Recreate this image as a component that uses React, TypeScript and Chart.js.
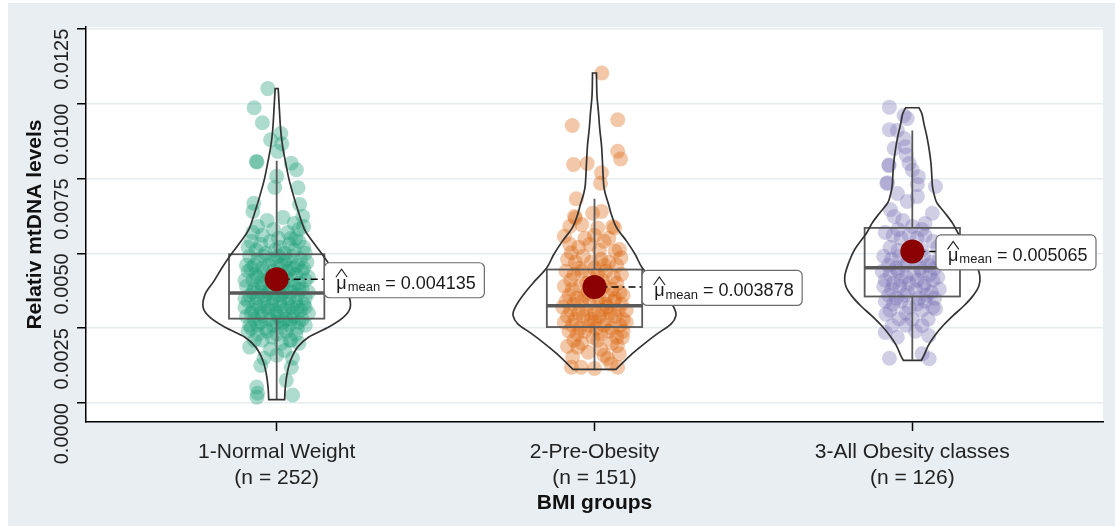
import React, { useEffect, useRef } from "react";
import { Chart, registerables } from "chart.js";

Chart.register(...registerables);

// ---------------- DATA ----------------
const categories = ["1-Normal Weight", "2-Pre-Obesity", "3-All Obesity classes"];
const groupCounts = [252, 151, 126];
const yTickValues = [0, 0.0025, 0.005, 0.0075, 0.01, 0.0125];
const xAxisTitle = "BMI groups";
const yAxisTitle = "Relativ mtDNA levels";

const meanValues = [0.004135, 0.003878, 0.005065];
const whiskerLow = [0.00013, 0.00113, 0.00145];
const quartile1 = [0.00282, 0.00254, 0.00356];
const medians = [0.00368, 0.00325, 0.00452];
const quartile3 = [0.00497, 0.00446, 0.00585];
const whiskerHigh = [0.00809, 0.00682, 0.0091];

// violin density outlines (value level, relative density)
const normalViolinY = [0.00012, 0.00054, 0.00098, 0.00143, 0.00187, 0.0022, 0.00253, 0.00286, 0.00319, 0.00364, 0.00408, 0.00452, 0.00496, 0.0054, 0.0058, 0.00637, 0.00691, 0.00746, 0.00802, 0.00856, 0.00912, 0.00995, 0.0105];
const normalViolinDensity = [0.1, 0.109, 0.131, 0.175, 0.263, 0.4, 0.65, 0.838, 0.925, 0.9, 0.788, 0.688, 0.575, 0.45, 0.35, 0.275, 0.213, 0.156, 0.113, 0.075, 0.05, 0.031, 0.019];

const preViolinY = [0.00113, 0.00132, 0.00165, 0.00198, 0.00231, 0.00264, 0.00292, 0.00319, 0.00364, 0.00408, 0.00452, 0.00496, 0.0054, 0.00585, 0.00629, 0.00662, 0.00695, 0.00728, 0.00806, 0.00861, 0.00916, 0.00971, 0.01027, 0.01102];
const preViolinDensity = [0.271, 0.344, 0.475, 0.625, 0.788, 0.963, 1.025, 1.0, 0.888, 0.75, 0.6, 0.513, 0.406, 0.28, 0.213, 0.179, 0.141, 0.116, 0.1, 0.088, 0.066, 0.05, 0.031, 0.025];

const obeseViolinY = [0.00143, 0.00159, 0.00192, 0.00225, 0.00259, 0.00292, 0.00325, 0.00358, 0.00391, 0.00424, 0.00469, 0.00513, 0.00568, 0.00601, 0.00634, 0.00667, 0.0069, 0.00723, 0.00756, 0.008, 0.00845, 0.00889, 0.00933, 0.00966, 0.00986];
const obeseViolinDensity = [0.113, 0.146, 0.2, 0.281, 0.388, 0.513, 0.65, 0.763, 0.838, 0.85, 0.8, 0.725, 0.575, 0.506, 0.413, 0.313, 0.281, 0.254, 0.246, 0.235, 0.213, 0.184, 0.146, 0.121, 0.084];

// jittered observations: [horizontal jitter, value]
const normalPoints: [number, number][] = [
  [-0.028, 0.0105], [-0.071, 0.00986], [-0.045, 0.00936], [0.013, 0.009], [-0.019, 0.00879], [0.016, 0.00866], [0.003, 0.0084],
  [-0.064, 0.00807], [-0.062, 0.00805], [0.046, 0.00801], [0.062, 0.00779], [0, 0.00757], [0.067, 0.00719], [-0.006, 0.0072],
  [-0.072, 0.00667], [0.072, 0.00663], [-0.075, 0.0064], [0.082, 0.00624],
  [-0.03, 0.0061], [0.02, 0.0062], [0.055, 0.006], [-0.06, 0.0059], [0.07, 0.0058], [-0.01, 0.0058], [0.035, 0.0057],
  [-0.045, 0.0056], [0.06, 0.0055], [0.005, 0.0055], [-0.075, 0.0057], [0.085, 0.0059],
  [-0.08, 0.0054], [-0.05, 0.0053], [-0.02, 0.0054], [0.01, 0.0052], [0.04, 0.0053], [0.07, 0.0054], [-0.065, 0.0051],
  [-0.035, 0.005], [0.025, 0.005], [0.055, 0.0051], [0.085, 0.0052], [-0.005, 0.0051], [0.09, 0.005], [-0.09, 0.0052], [0.045, 0.0055],
  [-0.085, 0.0049], [-0.06, 0.0048], [-0.04, 0.0049], [-0.015, 0.0048], [0.005, 0.0049], [0.03, 0.0048], [0.05, 0.0049],
  [0.075, 0.0048], [0.095, 0.0047], [-0.095, 0.0046], [-0.07, 0.0046], [-0.045, 0.0045], [-0.025, 0.0046], [0.015, 0.0046],
  [0.04, 0.0045], [0.065, 0.0046], [0.085, 0.0045], [0, 0.0047], [-0.08, 0.0045], [0.025, 0.0047],
  [-0.09, 0.0044], [-0.065, 0.0043], [-0.04, 0.0044], [-0.02, 0.0042], [0.01, 0.0043], [0.035, 0.0044], [0.06, 0.0043],
  [0.08, 0.0044], [0.1, 0.0042], [-0.1, 0.0041], [-0.075, 0.0041], [-0.05, 0.004], [-0.03, 0.0041], [0.02, 0.004],
  [0.045, 0.0041], [0.07, 0.004], [0.09, 0.0041], [-0.01, 0.0044], [-0.06, 0.0042], [0.055, 0.0045], [0, 0.004], [0.03, 0.0042],
  [-0.095, 0.0039], [-0.07, 0.0038], [-0.045, 0.0039], [-0.02, 0.0038], [0.005, 0.0039], [0.03, 0.0038], [0.055, 0.0039],
  [0.08, 0.0038], [0.1, 0.0037], [-0.085, 0.0036], [-0.06, 0.0035], [-0.035, 0.0036], [-0.01, 0.0035], [0.015, 0.0036],
  [0.04, 0.0035], [0.065, 0.0036], [0.09, 0.0035], [-0.1, 0.0035], [-0.05, 0.0037], [0.02, 0.0037], [0.045, 0.0037],
  [0.07, 0.0038], [-0.025, 0.0037], [0, 0.0036], [-0.075, 0.0037],
  [-0.09, 0.0034], [-0.065, 0.0033], [-0.04, 0.0034], [-0.015, 0.0033], [0.01, 0.0034], [0.035, 0.0033], [0.06, 0.0034],
  [0.085, 0.0033], [-0.1, 0.0032], [-0.075, 0.0031], [-0.05, 0.003], [-0.025, 0.0031], [0, 0.003], [0.025, 0.0031],
  [0.05, 0.003], [0.075, 0.0031], [0.1, 0.003], [-0.055, 0.0032], [0.045, 0.0032], [-0.03, 0.0032], [0.015, 0.0032],
  [0.09, 0.0032], [-0.08, 0.003], [0.065, 0.0032], [-0.005, 0.0031],
  [-0.095, 0.0029], [-0.07, 0.0028], [-0.045, 0.0029], [-0.02, 0.0028], [0.005, 0.0029], [0.03, 0.0028], [0.055, 0.0029],
  [0.08, 0.0028], [-0.085, 0.0026], [-0.06, 0.0026], [-0.035, 0.0025], [-0.01, 0.0026], [0.015, 0.0025], [0.04, 0.0026],
  [0.065, 0.0025], [0.09, 0.0026], [-0.05, 0.0027], [0.02, 0.0027], [0.07, 0.0027], [-0.08, 0.0025], [0.045, 0.0028], [0, 0.0027],
  [-0.09, 0.0024], [-0.06, 0.0023], [-0.03, 0.0024], [0, 0.0023], [0.03, 0.0024], [0.06, 0.0023], [-0.045, 0.0021],
  [0.045, 0.0021], [-0.015, 0.0022], [0.015, 0.002], [-0.07, 0.0021], [0.07, 0.002],
  [0.041, 0.0021], [-0.085, 0.00187], [0.025, 0.00176], [-0.05, 0.00126], [0.03, 0.00076], [-0.063, 0.00054], [-0.06, 0.00033],
  [-0.062, 0.0002], [0.05, 0.00027], [0, 0.0016], [-0.02, 0.0018], [0.05, 0.0015], [-0.04, 0.0015], [0.046, 0.0012],
];

const preObesityPoints: [number, number][] = [
  [0.023, 0.01102], [-0.07, 0.00927], [0.073, 0.00946], [0.073, 0.00841], [0.082, 0.00815], [-0.066, 0.00797], [-0.023, 0.008],
  [0.022, 0.00769], [0.019, 0.00734], [-0.057, 0.00682], [-0.063, 0.00623], [-0.06, 0.00618], [-0.006, 0.00634], [0.022, 0.0064],
  [-0.078, 0.0059], [-0.04, 0.00596], [0.01, 0.00585], [0.063, 0.00585], [0.057, 0.0059],
  [-0.095, 0.00557], [-0.078, 0.0053], [-0.073, 0.00502], [0.065, 0.00507], [0.078, 0.00513], [0.083, 0.00485], [-0.03, 0.0055],
  [0, 0.0056], [0.03, 0.0054], [-0.05, 0.0052], [0.015, 0.0051], [-0.015, 0.0053], [0.045, 0.0055],
  [-0.085, 0.0048], [-0.06, 0.0047], [-0.035, 0.0049], [-0.01, 0.0047], [0.02, 0.0048], [0.045, 0.0047], [0.07, 0.0046],
  [-0.05, 0.0045], [0, 0.0045], [0.03, 0.0046],
  [-0.09, 0.0044], [-0.065, 0.0043], [-0.04, 0.0044], [-0.015, 0.0042], [0.01, 0.0043], [0.035, 0.0044], [0.06, 0.0042],
  [0.085, 0.0043], [-0.075, 0.0041], [-0.025, 0.004], [0.025, 0.0041], [0.07, 0.004],
  [-0.095, 0.0039], [-0.07, 0.0038], [-0.045, 0.0039], [-0.02, 0.0037], [0.005, 0.0038], [0.03, 0.0039], [0.055, 0.0038],
  [0.08, 0.0037], [-0.08, 0.0036], [-0.055, 0.0035], [-0.03, 0.0036], [0.015, 0.0035], [0.04, 0.0036], [0.065, 0.0035], [0.09, 0.0036],
  [-0.09, 0.0034], [-0.065, 0.0033], [-0.04, 0.0034], [-0.015, 0.0033], [0.01, 0.0034], [0.035, 0.0033], [0.06, 0.0034],
  [0.085, 0.0033], [-0.075, 0.0031], [-0.05, 0.003], [-0.025, 0.0031], [0, 0.003], [0.025, 0.0031], [0.05, 0.003],
  [0.075, 0.0031], [-0.1, 0.0032], [0.1, 0.0031], [0.04, 0.0032],
  [-0.085, 0.0029], [-0.06, 0.0028], [-0.035, 0.0029], [-0.01, 0.0028], [0.015, 0.0029], [0.04, 0.0028], [0.065, 0.0029],
  [0.09, 0.0028], [-0.07, 0.0026], [-0.045, 0.0025], [-0.02, 0.0026], [0.005, 0.0025], [0.03, 0.0026], [0.055, 0.0025],
  [0.08, 0.0026], [-0.095, 0.0027], [0.1, 0.0027], [0, 0.0027],
  [-0.08, 0.0024], [-0.055, 0.0023], [-0.03, 0.0024], [-0.005, 0.0022], [0.02, 0.0023], [0.045, 0.0024], [0.07, 0.0022],
  [0.09, 0.0024], [-0.065, 0.0021], [-0.04, 0.002], [0.01, 0.0021], [0.055, 0.002],
  [-0.053, 0.00187], [0.072, 0.00192], [0.088, 0.0022], [-0.069, 0.00154], [0.078, 0.00165], [0.041, 0.00149], [-0.073, 0.0012],
  [-0.042, 0.0012], [0.073, 0.0012], [0.052, 0.00131], [0, 0.00116], [-0.02, 0.0017], [0.02, 0.0018], [-0.085, 0.0019], [0.03, 0.0016],
];

const obesityPoints: [number, number][] = [
  [-0.072, 0.00988], [-0.026, 0.0096], [-0.016, 0.0095], [-0.072, 0.00913], [-0.047, 0.00911], [-0.026, 0.00883], [-0.057, 0.0085],
  [-0.022, 0.00856], [-0.019, 0.00828], [-0.073, 0.00795], [-0.074, 0.00793], [-0.01, 0.008], [0, 0.00778], [0.019, 0.00756],
  [-0.078, 0.00736], [-0.08, 0.00733], [0.073, 0.00723], [0.016, 0.0073], [-0.047, 0.007], [0.016, 0.0069], [-0.069, 0.00646],
  [-0.016, 0.00673], [0.063, 0.00634], [-0.057, 0.00623], [-0.03, 0.0061], [0, 0.0059], [0.04, 0.006], [0.03, 0.0058], [-0.045, 0.0058],
  [-0.085, 0.0057], [-0.06, 0.0056], [-0.035, 0.0055], [-0.01, 0.0056], [0.015, 0.0055], [0.04, 0.0056], [0.065, 0.0054],
  [-0.07, 0.0052], [-0.045, 0.0051], [0, 0.0052], [0.03, 0.0051], [0.08, 0.0052],
  [-0.09, 0.0049], [-0.065, 0.0048], [-0.04, 0.0049], [-0.015, 0.0047], [0.01, 0.0048], [0.035, 0.0049], [0.06, 0.0047],
  [0.085, 0.0048], [-0.075, 0.0046], [-0.05, 0.0045], [-0.025, 0.0046], [0.025, 0.0045], [0.05, 0.0046], [0.07, 0.0045],
  [-0.095, 0.0044], [-0.07, 0.0043], [-0.045, 0.0044], [-0.02, 0.0042], [0.005, 0.0043], [0.03, 0.0044], [0.055, 0.0043],
  [0.08, 0.0042], [-0.085, 0.0041], [-0.06, 0.004], [-0.035, 0.0041], [-0.01, 0.004], [0.015, 0.0041], [0.04, 0.004], [0.065, 0.0041],
  [-0.09, 0.0039], [-0.065, 0.0038], [-0.04, 0.0039], [-0.015, 0.0037], [0.01, 0.0038], [0.035, 0.0039], [0.06, 0.0037],
  [0.085, 0.0038], [-0.075, 0.0036], [-0.05, 0.0035], [-0.025, 0.0036], [0.02, 0.0035], [0.045, 0.0036], [0.07, 0.0035],
  [-0.085, 0.0034], [-0.06, 0.0033], [-0.035, 0.0034], [-0.01, 0.0032], [0.015, 0.0033], [0.04, 0.0034], [0.065, 0.0032],
  [-0.07, 0.0031], [-0.02, 0.003], [0.03, 0.0031],
  [0.073, 0.00315], [-0.083, 0.00297], [-0.042, 0.00282], [-0.063, 0.00259], [0.031, 0.00259], [-0.085, 0.00236], [-0.047, 0.0022],
  [0.052, 0.00225], [0.031, 0.00165], [-0.072, 0.0015], [0.053, 0.00148], [0, 0.0028], [0.05, 0.0028], [-0.02, 0.0026], [0.01, 0.0024],
];

const groupPoints = [normalPoints, preObesityPoints, obesityPoints];
const violinLevels = [normalViolinY, preViolinY, obeseViolinY];
const violinDensities = [normalViolinDensity, preViolinDensity, obeseViolinDensity];

// ---------------- STYLE ----------------
const pointColors = ["rgba(27,158,119,0.36)", "rgba(217,95,2,0.34)", "rgba(117,112,179,0.34)"];
const MEAN_COLOR = "#8b0000";
const FONT = "'Liberation Sans', Arial, Helvetica, sans-serif";
const X_MIN = 0.4;
const X_MAX = 3.6;
const Y_MIN = -0.00063;
const Y_MAX = 0.012556;
const BOX_HALF = 0.15;
const VIOLIN_HALF = 0.25;
const MEAN_INDEX = 3;

type Pt = [number, number];

function smoothTo(ctx: CanvasRenderingContext2D, pts: Pt[]) {
  for (let i = 0; i < pts.length - 1; i++) {
    const p0 = pts[i - 1] || pts[i];
    const p1 = pts[i];
    const p2 = pts[i + 1];
    const p3 = pts[i + 2] || p2;
    const c1x = p1[0] + (p2[0] - p0[0]) / 6;
    const c1y = p1[1] + (p2[1] - p0[1]) / 6;
    const c2x = p2[0] - (p3[0] - p1[0]) / 6;
    const c2y = p2[1] - (p3[1] - p1[1]) / 6;
    ctx.bezierCurveTo(c1x, c1y, c2x, c2y, p2[0], p2[1]);
  }
}

const decorPlugin = {
  id: "decor",
  beforeDraw(chart: any) {
    const { ctx, chartArea } = chart;
    ctx.save();
    ctx.fillStyle = "#ffffff";
    ctx.fillRect(0, 0, chart.width, chart.height);
    ctx.fillStyle = "#e8eef2";
    ctx.fillRect(8, 3, chart.width - 8, chart.height - 3);
    ctx.fillStyle = "#ffffff";
    ctx.fillRect(chartArea.left, chartArea.top, chartArea.right - chartArea.left, chartArea.bottom - chartArea.top);
    ctx.restore();
  },
  beforeDatasetDraw(chart: any, args: any) {
    if (args.index !== MEAN_INDEX) return;
    const { ctx } = chart;
    const xs = chart.scales.x;
    const ys = chart.scales.y;
    ctx.save();
    for (let g = 0; g < categories.length; g++) {
      const c = g + 1;
      // box
      const l = xs.getPixelForValue(c - BOX_HALF);
      const r = xs.getPixelForValue(c + BOX_HALF);
      const cx = xs.getPixelForValue(c);
      const q1 = ys.getPixelForValue(quartile1[g]);
      const q3 = ys.getPixelForValue(quartile3[g]);
      ctx.strokeStyle = "#595959";
      ctx.lineWidth = 1.8;
      ctx.beginPath();
      ctx.moveTo(cx, q3);
      ctx.lineTo(cx, ys.getPixelForValue(whiskerHigh[g]));
      ctx.moveTo(cx, q1);
      ctx.lineTo(cx, ys.getPixelForValue(whiskerLow[g]));
      ctx.stroke();
      ctx.strokeRect(l, q3, r - l, q1 - q3);
      ctx.lineWidth = 3.5;
      ctx.beginPath();
      const md = ys.getPixelForValue(medians[g]);
      ctx.moveTo(l, md);
      ctx.lineTo(r, md);
      ctx.stroke();

      // violin
      const lv = violinLevels[g];
      const dv = violinDensities[g];
      const right: Pt[] = lv.map((v, i) => [xs.getPixelForValue(c + dv[i] * VIOLIN_HALF), ys.getPixelForValue(v)]);
      const left: Pt[] = lv.map((v, i) => [xs.getPixelForValue(c - dv[i] * VIOLIN_HALF), ys.getPixelForValue(v)]).reverse() as Pt[];
      ctx.strokeStyle = "#333333";
      ctx.lineWidth = 1.7;
      ctx.beginPath();
      ctx.moveTo(right[0][0], right[0][1]);
      smoothTo(ctx, right);
      ctx.lineTo(left[0][0], left[0][1]);
      smoothTo(ctx, left);
      ctx.closePath();
      ctx.stroke();
    }
    // mean connector lines
    for (let g = 0; g < categories.length; g++) {
      const c = g + 1;
      const mx = xs.getPixelForValue(c);
      const my = ys.getPixelForValue(meanValues[g]);
      const labelLeft = Math.min(xs.getPixelForValue(c + BOX_HALF), chart.chartArea.right - 167);
      ctx.strokeStyle = "#000";
      ctx.lineWidth = 1.5;
      ctx.setLineDash([7, 4, 2, 4]);
      ctx.beginPath();
      ctx.moveTo(mx, my);
      ctx.lineTo(labelLeft, my);
      ctx.stroke();
    }
    ctx.restore();
  },
  afterDatasetsDraw(chart: any) {
    const { ctx } = chart;
    const xs = chart.scales.x;
    const ys = chart.scales.y;
    ctx.save();
    for (let g = 0; g < categories.length; g++) {
      const c = g + 1;
      const my = ys.getPixelForValue(meanValues[g]) + 1;
      const w = 160;
      const h = 35;
      const left = Math.min(xs.getPixelForValue(c + BOX_HALF), chart.chartArea.right - 167);
      const top = my - h / 2;
      ctx.setLineDash([]);
      ctx.fillStyle = "#ffffff";
      ctx.strokeStyle = "#6b6b6b";
      ctx.lineWidth = 1.2;
      ctx.beginPath();
      ctx.roundRect(left, top, w, h, 5);
      ctx.fill();
      ctx.stroke();
      // text
      const base = my + 8.5;
      let x = left + 12;
      ctx.fillStyle = "#1a1a1a";
      ctx.textBaseline = "alphabetic";
      ctx.textAlign = "left";
      ctx.font = `18px ${FONT}`;
      const mu = "μ";
      ctx.fillText(mu, x, base);
      const muW = ctx.measureText(mu).width;
      // hat
      ctx.strokeStyle = "#1a1a1a";
      ctx.lineWidth = 1.1;
      ctx.beginPath();
      ctx.moveTo(x - 0.5, my - 3);
      ctx.lineTo(x + muW / 2, my - 11);
      ctx.lineTo(x + muW + 0.5, my - 3);
      ctx.stroke();
      x += muW + 1;
      ctx.font = `13px ${FONT}`;
      const sub = "mean";
      ctx.fillText(sub, x, base + 2.5);
      x += ctx.measureText(sub).width + 5;
      ctx.font = `18px ${FONT}`;
      ctx.fillText("= " + meanValues[g].toFixed(6), x, base);
    }
    ctx.restore();
  },
};

export default function App() {
  const canvasRef = useRef<HTMLCanvasElement | null>(null);

  useEffect(() => {
    if (!canvasRef.current) return;
    const datasets: any[] = groupPoints.map((pts, g) => ({
      label: categories[g],
      data: pts.map(([dx, v]) => ({ x: g + 1 + dx, y: v })),
      backgroundColor: pointColors[g],
      borderWidth: 0,
      pointRadius: 7.5,
      order: 1,
    }));
    datasets.push({
      label: "mean",
      data: meanValues.map((m, g) => ({ x: g + 1, y: m })),
      backgroundColor: MEAN_COLOR,
      borderWidth: 0,
      pointRadius: 12,
      order: 0,
    });

    const chart = new Chart(canvasRef.current, {
      type: "scatter",
      data: { datasets },
      options: {
        animation: false,
        responsive: false,
        devicePixelRatio: 1,
        events: [],
        layout: { padding: { top: 24, right: 10, left: 0, bottom: 0 } },
        plugins: { legend: { display: false }, tooltip: { enabled: false } },
        scales: {
          x: {
            type: "linear",
            min: X_MIN,
            max: X_MAX,
            afterBuildTicks: (axis: any) => {
              axis.ticks = categories.map((_, i) => ({ value: i + 1 }));
            },
            afterFit: (axis: any) => {
              axis.height = 104;
            },
            ticks: {
              autoSkip: false,
              maxRotation: 0,
              minRotation: 0,
              padding: 8,
              color: "#222",
              font: { family: FONT, size: 21, lineHeight: 1.25 },
              callback: (v: any) => {
                const i = Math.round(Number(v)) - 1;
                return [categories[i], `(n = ${groupCounts[i]})`];
              },
            },
            grid: {
              drawOnChartArea: false,
              drawTicks: true,
              tickLength: 9,
              tickWidth: 1.5,
              tickColor: "#000",
            },
            border: { color: "#000", width: 1.5 },
            title: {
              display: true,
              text: xAxisTitle,
              color: "#111",
              font: { family: FONT, size: 21, weight: "bold", lineHeight: 1.2 },
              padding: { top: 0, bottom: 10 },
            },
          },
          y: {
            type: "linear",
            min: Y_MIN,
            max: Y_MAX,
            afterBuildTicks: (axis: any) => {
              axis.ticks = yTickValues.map((v) => ({ value: v }));
            },
            afterFit: (axis: any) => {
              axis.width = 86;
            },
            ticks: {
              minRotation: 90,
              maxRotation: 90,
              padding: 15,
              color: "#222",
              font: { family: FONT, size: 20 },
              callback: (v: any) => Number(v).toFixed(4),
            },
            grid: {
              color: "#e6edf1",
              lineWidth: 1.5,
              drawTicks: true,
              tickLength: 9,
              tickWidth: 1.5,
              tickColor: "#000",
            },
            border: { color: "#000", width: 1.5 },
            title: {
              display: true,
              text: yAxisTitle,
              color: "#111",
              font: { family: FONT, size: 21, weight: "bold", lineHeight: 1.2 },
              padding: { top: 23, bottom: 0 },
            },
          },
        },
      },
      plugins: [decorPlugin],
    });
    return () => chart.destroy();
  }, []);

  return (
    <div style={{ position: "absolute", left: 0, top: 0, width: 1115, height: 526 }}>
      <canvas ref={canvasRef} width={1115} height={526} style={{ width: 1115, height: 526, display: "block" }} />
    </div>
  );
}
